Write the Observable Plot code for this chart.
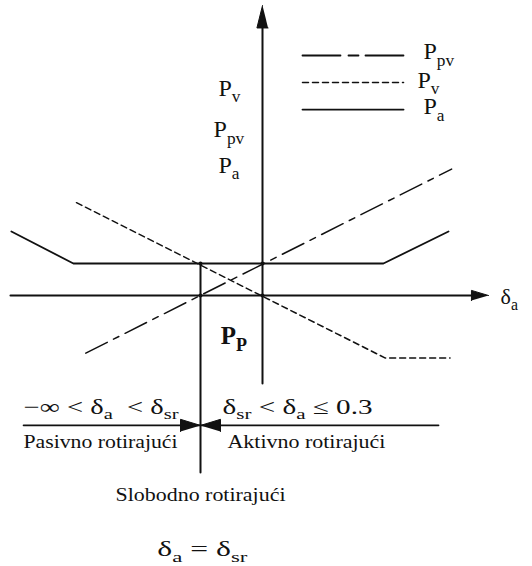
<!DOCTYPE html>
<html><head><meta charset="utf-8">
<script src="https://cdn.jsdelivr.net/npm/d3@7"></script>
<script src="https://cdn.jsdelivr.net/npm/@observablehq/plot@0.6"></script>
<style>body{margin:0;background:#fff} #chart svg{display:block}</style>
</head><body><div id="chart"></div>
<script>
// Schematic units: horizontal = δa, vertical = P
const deltaSr = -2;
const paPoints  = [{x:-8.1,y:2.0},{x:-6.1,y:1.0},{x:3.9,y:1.0},{x:6.0,y:2.0}];
const ppvPoints = [{x:-5.7,y:-1.8},{x:6.1,y:3.95}];
const pvPoints  = [{x:-6.0,y:2.9},{x:3.95,y:-1.95},{x:6.05,y:-1.95}];
const nodePoints = [{x:-2,y:1},{x:0,y:1},{x:-2,y:0},{x:0,y:0}];

// axes extents
const hAxis = {x0:-8.13, x1:7.29, y:0};
const vAxis = {y0:-2.75, y1:9.06, x:0};
const srLine = {y0:1, y1:-5.53};
const regionLine = {x0:-7.71, x1:5.68, y:-4.06};

// legend
const legendNames = ["P_{pv}","P_{v}","P_{a}"];
const legendY = [7.5, 6.66, 5.81];
const legendX = [1.29, 4.55];
const legendLabelX = [5.19, 5.0, 5.19];
const legendLabelY = [7.38, 6.5, 5.66];

// vertical-axis labels
const axisLabels = ["P_{v}","P_{pv}","P_{a}"];
const axisLabelX = [-1.42, -1.58, -1.42];
const axisLabelY = [6.25, 4.94, 3.84];

// bottom annotations
const rangeLabels = ["−∞ < δ_{a}  < δ_{sr}", "δ_{sr} < δ_{a} ≤ 0.3"];
const rangeLabelX = [-7.71, -1.29];
const regionNames = ["Pasivno rotirajući", "Aktivno rotirajući"];
const regionNameX = [-7.71, -1.13];
const centerNotes = ["Slobodno rotirajući", "δ_{a} = δ_{sr}"];
const centerNoteY = [-6.41, -8.13];

// text widths (px) of the wide-set lower annotations
const textWidths = new Map([
  [rangeLabels[0],155],[rangeLabels[1],150],
  [regionNames[0],154],[regionNames[1],158],
  [centerNotes[0],170],[centerNotes[1],90]
]);

const serif = "Liberation Serif";

// arrowhead polygons derived from axis ends
const ah = 0.55, aw = 0.16;
const hArrow = [{x:hAxis.x1,y:0},{x:hAxis.x1-ah,y:aw},{x:hAxis.x1-ah,y:-aw}];
const vArrow = [{x:0,y:vAxis.y1},{x:-0.18,y:vAxis.y1-0.7},{x:0.18,y:vAxis.y1-0.7}];
const bw = 0.645, bh = 0.19;
const bowL = [{x:deltaSr,y:regionLine.y},{x:deltaSr-bw,y:regionLine.y+bh},{x:deltaSr-bw,y:regionLine.y-bh}];
const bowR = [{x:deltaSr,y:regionLine.y},{x:deltaSr+bw,y:regionLine.y+bh},{x:deltaSr+bw,y:regionLine.y-bh}];

const seg = (a,b)=>[a,b];
const txt = (labels, xs, ys)=>labels.map((t,i)=>({t, x:xs[i], y:ys[i]}));
const T = (data, o)=>Plot.text(data, {x:"x",y:"y",text:"t",textAnchor:"start",lineAnchor:"bottom",fill:"#111",fontFamily:serif,...o});

const chart = Plot.plot({
  width:532, height:566, margin:0,
  x:{domain:[-262/31, 270/31], axis:null},
  y:{domain:[-271/32, 295/32], axis:null},
  style:{background:"white", color:"black"},
  marks:[
    // axes
    Plot.line(seg({x:hAxis.x0,y:0},{x:hAxis.x1-ah,y:0}), {x:"x",y:"y",stroke:"#111",strokeWidth:2}),
    Plot.line(hArrow, {x:"x",y:"y",fill:"#111",stroke:"#111",strokeWidth:1}),
    Plot.line(seg({x:0,y:vAxis.y0},{x:0,y:vAxis.y1-0.6}), {x:"x",y:"y",stroke:"#111",strokeWidth:2}),
    Plot.line(vArrow, {x:"x",y:"y",fill:"#111",stroke:"#111",strokeWidth:1}),
    // δsr line
    Plot.line(seg({x:deltaSr,y:srLine.y0},{x:deltaSr,y:srLine.y1}), {x:"x",y:"y",stroke:"#111",strokeWidth:2}),
    // region line + bowtie
    Plot.line(seg({x:regionLine.x0,y:regionLine.y},{x:regionLine.x1,y:regionLine.y}), {x:"x",y:"y",stroke:"#111",strokeWidth:1.6}),
    Plot.line(bowL, {x:"x",y:"y",fill:"#111",stroke:"#111",strokeWidth:1}),
    Plot.line(bowR, {x:"x",y:"y",fill:"#111",stroke:"#111",strokeWidth:1}),
    // series
    Plot.line(paPoints, {x:"x",y:"y",stroke:"#111",strokeWidth:1.8}),
    Plot.line(ppvPoints, {x:"x",y:"y",stroke:"#111",strokeWidth:1.5,strokeDasharray:"24,7,6,7"}),
    Plot.line(pvPoints, {x:"x",y:"y",stroke:"#111",strokeWidth:1.5,strokeDasharray:"6,4"}),
    Plot.dot(nodePoints, {x:"x",y:"y",r:2,fill:"#111"}),
    // legend samples
    Plot.line(seg({x:legendX[0],y:legendY[0]},{x:legendX[1],y:legendY[0]}), {x:"x",y:"y",stroke:"#111",strokeWidth:1.8,strokeDasharray:"38,8,10,7"}),
    Plot.line(seg({x:legendX[0],y:legendY[1]},{x:legendX[1],y:legendY[1]}), {x:"x",y:"y",stroke:"#111",strokeWidth:1.5,strokeDasharray:"6,4"}),
    Plot.line(seg({x:legendX[0],y:legendY[2]},{x:legendX[1],y:legendY[2]}), {x:"x",y:"y",stroke:"#111",strokeWidth:1.8}),
    T(txt(legendNames, legendLabelX, legendLabelY), {fontSize:24}),
    // axis labels
    T(txt(axisLabels, axisLabelX, axisLabelY), {fontSize:24}),
    T([{t:"P_{P}",x:-1.35,y:-1.5}], {fontSize:25, fontWeight:"bold"}),
    T([{t:"δ_{a}",x:7.68,y:-0.25}], {fontSize:22}),
    // bottom annotations
    T(txt(rangeLabels, rangeLabelX, [-3.69,-3.69]), {fontSize:21}),
    T(txt(regionNames, regionNameX, [-4.78,-4.78]), {fontSize:18}),
    T([{t:centerNotes[0],x:deltaSr,y:centerNoteY[0]}], {fontSize:18,textAnchor:"middle"}),
    T([{t:centerNotes[1],x:deltaSr+0.06,y:centerNoteY[1]}], {fontSize:21,textAnchor:"middle"})
  ]
});
document.getElementById("chart").appendChild(chart);

// turn "_{...}" markup into subscript tspans, and widen the lower annotations
const NS = "http://www.w3.org/2000/svg";
chart.querySelectorAll("text").forEach(t=>{
  const s = t.textContent;
  if (s.includes("_{")) {
    const fs = parseFloat(getComputedStyle(t).fontSize) || 20;
    const shift = 0.28*fs;
    const parts = s.split(/_\{([^}]*)\}/);
    while (t.firstChild) t.removeChild(t.firstChild);
    let lowered = false;
    parts.forEach((p,i)=>{
      if (p === "") return;
      const sp = document.createElementNS(NS,"tspan");
      sp.textContent = p;
      if (i % 2 === 1) {
        sp.setAttribute("font-size", (0.72*fs)+"px");
        if (!lowered) { sp.setAttribute("dy", shift); lowered = true; }
      } else if (lowered) {
        sp.setAttribute("dy", -shift); lowered = false;
      }
      t.appendChild(sp);
    });
  }
  if (textWidths.has(s)) {
    t.setAttribute("textLength", textWidths.get(s));
    t.setAttribute("lengthAdjust", "spacingAndGlyphs");
  }
});
</script>
</body></html>
